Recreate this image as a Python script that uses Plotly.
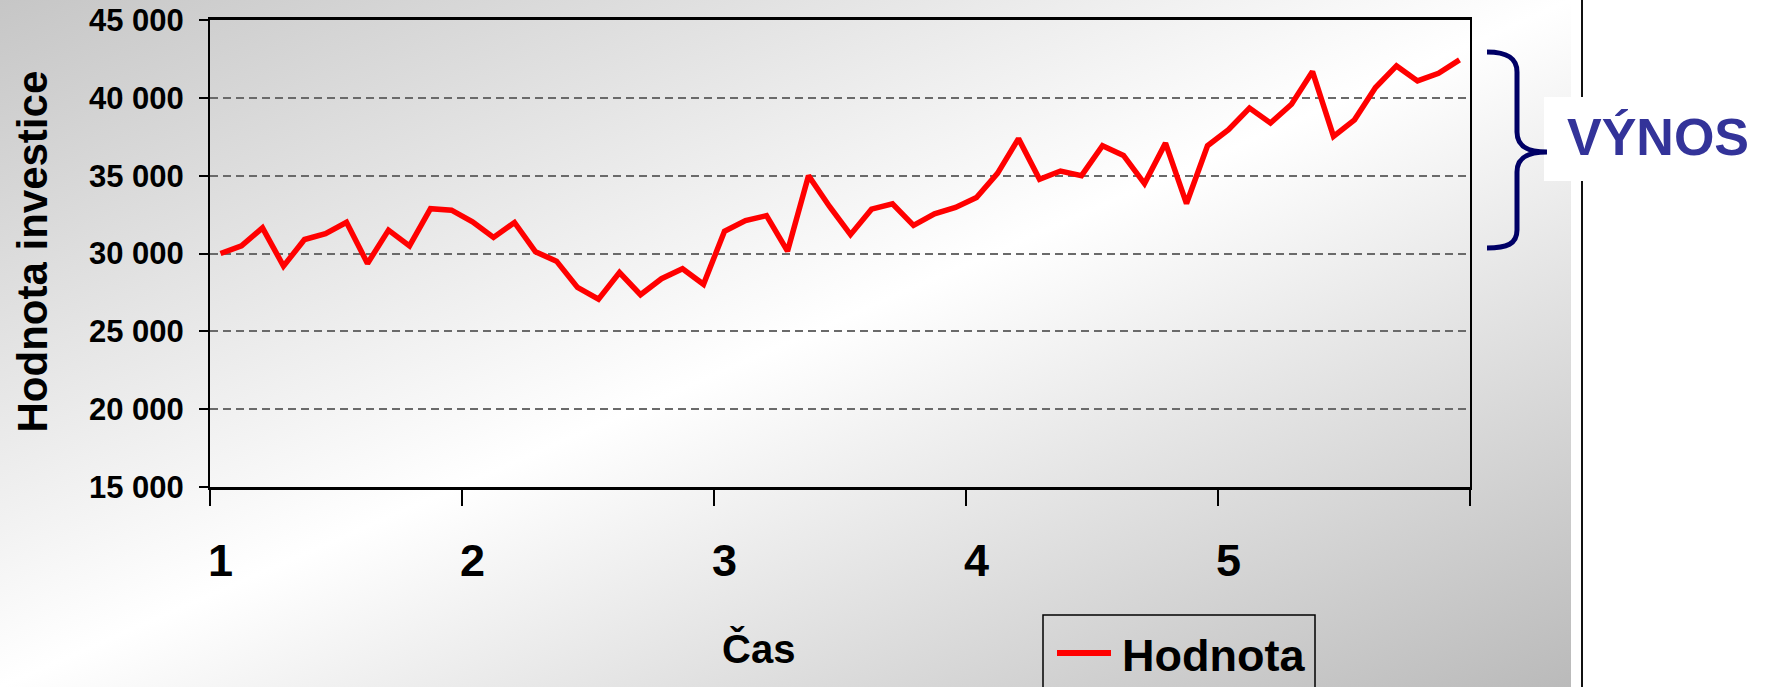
import base64
import plotly.graph_objects as go

# ---------------- data ----------------
months = list(range(1, 61))
values = [30000, 30490, 31650, 29190, 30900, 31280, 32010, 29360, 31500, 30490,
          32880, 32780, 32030, 31030, 31990, 30110, 29510, 27820, 27070, 28780,
          27350, 28380, 29020, 28020, 31430, 32110, 32430, 30150, 35000, 33020,
          31210, 32850, 33190, 31810, 32550, 32960, 33600, 35150, 37380, 34770,
          35300, 35000, 36920, 36300, 34490, 37090, 33210, 36920, 37950, 39340,
          38380, 39590, 41690, 37520, 38590, 40660, 42050, 41090, 41580, 42440]
year_labels = ["1", "2", "3", "4", "5"]
year_tickvals = [1, 13, 25, 37, 49]
year_bounds = [0.5, 12.5, 24.5, 36.5, 48.5, 60.5]
y_tickvals = [15000, 20000, 25000, 30000, 35000, 40000, 45000]
y_ticktext = ["15 000", "20 000", "25 000", "30 000", "35 000", "40 000", "45 000"]
series_name = "Hodnota"

# ---------------- geometry helpers ----------------
W, H = 1765, 687
L, R, T, B = 210, 295, 20, 200
PW, PH = W - L - R, H - T - B


def px(x):
    return (x - L) / PW


def py(y):
    return (T + PH - y) / PH


FONT = "Liberation Sans, Arial, sans-serif"

fig = go.Figure()
fig.add_trace(go.Scatter(
    x=months, y=values, mode="lines", name=series_name,
    line=dict(color="#ff0000", width=5.5), showlegend=False,
))

# background gradient
svg = ('<svg xmlns="http://www.w3.org/2000/svg" width="1571" height="687" '
       'preserveAspectRatio="none"><defs><linearGradient id="g" x1="0" y1="0" '
       'x2="1" y2="1"><stop offset="0" stop-color="#c6c6c6"/>'
       '<stop offset="0.5" stop-color="#ffffff"/>'
       '<stop offset="1" stop-color="#bababa"/></linearGradient></defs>'
       '<rect width="1571" height="687" fill="url(#g)"/></svg>')
src = "data:image/svg+xml;base64," + base64.b64encode(svg.encode()).decode()
fig.add_layout_image(dict(
    source=src, xref="paper", yref="paper", x=px(0), y=py(0),
    sizex=1571 / PW, sizey=H / PH, xanchor="left", yanchor="top",
    sizing="stretch", layer="below",
))

shapes = []
# vertical separator line
shapes.append(dict(type="line", xref="paper", yref="paper",
                   x0=px(1582), x1=px(1582), y0=py(0), y1=py(H),
                   line=dict(color="#111111", width=2)))
# white box behind label
shapes.append(dict(type="rect", xref="paper", yref="paper",
                   x0=px(1544), x1=px(1765), y0=py(181), y1=py(97),
                   fillcolor="white", line=dict(width=0)))


def P(x, y):
    return f"{px(x):.5f},{py(y):.5f}"


brace = ("M" + P(1487, 52) + " C" + P(1507, 52) + " " + P(1517, 58) + " " + P(1517, 72)
         + " L" + P(1517, 132) + " C" + P(1517, 146) + " " + P(1527, 152) + " " + P(1547, 152)
         + " C" + P(1527, 152) + " " + P(1517, 158) + " " + P(1517, 172)
         + " L" + P(1517, 230) + " C" + P(1517, 244) + " " + P(1507, 248) + " " + P(1487, 248))
shapes.append(dict(type="path", xref="paper", yref="paper", path=brace,
                   line=dict(color="#000066", width=5)))
# legend box
shapes.append(dict(type="rect", xref="paper", yref="paper",
                   x0=px(1043), x1=px(1315), y0=py(705), y1=py(615),
                   fillcolor="rgba(0,0,0,0)", line=dict(color="black", width=1.5)))
shapes.append(dict(type="line", xref="paper", yref="paper",
                   x0=px(1057), x1=px(1111), y0=py(653), y1=py(653),
                   line=dict(color="#ff0000", width=6)))

annotations = [
    dict(text=series_name, xref="paper", yref="paper", x=px(1120), y=py(655),
         xanchor="left", yanchor="middle", showarrow=False,
         font=dict(family=FONT, size=45, color="black", weight="bold")),
    dict(text="VÝNOS", xref="paper", yref="paper", x=px(1658), y=py(137),
         xanchor="center", yanchor="middle", showarrow=False,
         font=dict(family=FONT, size=52, color="#333399", weight="bold")),
    dict(text="Čas", xref="paper", yref="paper", x=px(758), y=py(648),
         xanchor="center", yanchor="middle", showarrow=False,
         font=dict(family=FONT, size=40, color="black", weight="bold")),
    dict(text="Hodnota investice", xref="paper", yref="paper", x=px(31.5), y=py(252),
         xanchor="center", yanchor="middle", showarrow=False, textangle=-90,
         font=dict(family=FONT, size=42, color="black", weight="bold")),
]

fig.update_layout(
    width=W, height=H,
    margin=dict(l=L, r=R, t=T, b=B, autoexpand=False),
    paper_bgcolor="white", plot_bgcolor="rgba(0,0,0,0)",
    shapes=shapes, annotations=annotations, showlegend=False,
    xaxis=dict(
        range=[0.5, 60.5], tickmode="array", tickvals=year_tickvals, ticktext=year_labels,
        ticks="", ticklabelstandoff=32, showgrid=False, zeroline=False,
        showline=True, linecolor="black", linewidth=2.5, mirror=True,
        tickfont=dict(family=FONT, size=45, color="black", weight="bold"),
        minor=dict(tickmode="array", tickvals=year_bounds, ticks="outside",
                   ticklen=16, tickwidth=1.5, tickcolor="black", showgrid=False),
    ),
    yaxis=dict(
        range=[15000, 45000], tickmode="array", tickvals=y_tickvals, ticktext=y_ticktext,
        ticks="outside", ticklen=9, tickwidth=1.5, tickcolor="black",
        ticklabelstandoff=9, zeroline=False,
        showgrid=True, gridcolor="#6a6a6a", gridwidth=1.5, griddash="8px,5px",
        showline=True, linecolor="black", linewidth=2, mirror=True,
        tickfont=dict(family=FONT, size=31, color="black", weight="bold"),
    ),
)

fig.write_html("out.html",
               config={"displayModeBar": False},
               post_script="document.body.style.margin='0px';"
                           "document.documentElement.style.overflow='hidden';")
